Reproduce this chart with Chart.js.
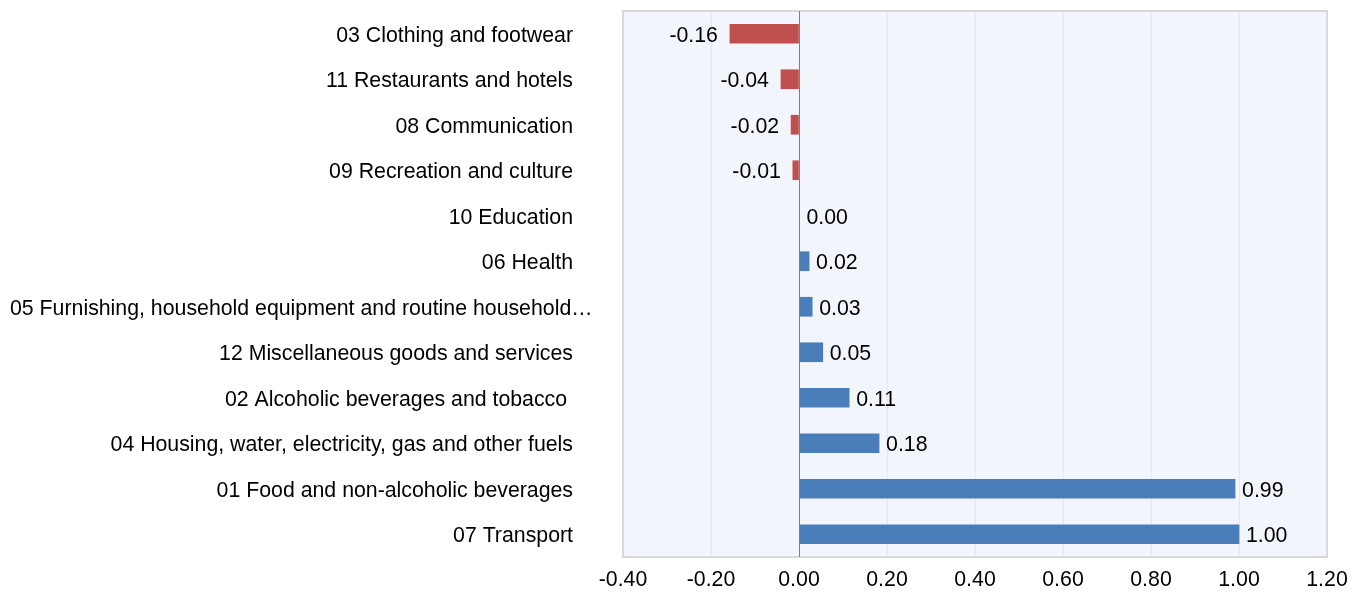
<!DOCTYPE html>
<html>
<head>
<meta charset="utf-8">
<script src="https://cdn.jsdelivr.net/npm/chart.js@4.4.1/dist/chart.umd.min.js"></script>
<style>
  html, body { margin: 0; padding: 0; background: #ffffff; }
  #wrap { width: 1365px; height: 592px; }
</style>
</head>
<body>
<div id="wrap"><canvas id="contribChart" width="1365" height="592"></canvas></div>
<script>
// Datos del gráfico
const categories = [
    '03 Clothing and footwear',
    '11 Restaurants and hotels',
    '08 Communication',
    '09 Recreation and culture',
    '10 Education',
    '06 Health',
    '05 Furnishing, household equipment and routine household…',
    '12 Miscellaneous goods and services',
    '02 Alcoholic beverages and tobacco ',
    '04 Housing, water, electricity, gas and other fuels',
    '01 Food and non-alcoholic beverages',
    '07 Transport'
];
const contributions = [-0.157, -0.041, -0.018, -0.014, 0.001, 0.023, 0.03, 0.054, 0.114, 0.182, 0.991, 1.0];
const xTicks = [-0.4, -0.2, 0, 0.2, 0.4, 0.6, 0.8, 1.0, 1.2];

const FONT = "'Liberation Sans', Arial, sans-serif";
const FONT_SIZE = 21.3;
const colorPos = '#4a7ebb';
const colorNeg = '#c0504d';

Chart.defaults.font.family = FONT;
Chart.defaults.color = '#000000';

// Fondo y borde del área de trazado
const plotBackground = {
    id: 'plotBackground',
    beforeDraw(chart) {
        const { ctx, chartArea: a } = chart;
        ctx.save();
        ctx.fillStyle = '#f2f5fb';
        ctx.fillRect(a.left, a.top, a.right - a.left, a.bottom - a.top);
        ctx.restore();
    },
    afterDatasetsDraw(chart) {
        const { ctx, chartArea: a } = chart;
        ctx.save();
        ctx.strokeStyle = '#d9d9d9';
        ctx.lineWidth = 2;
        ctx.strokeRect(a.left, a.top, a.right - a.left, a.bottom - a.top);
        // línea del cero
        const x0 = Math.round(chart.scales.x.getPixelForValue(0)) + 0.5;
        ctx.strokeStyle = '#7f7f7f';
        ctx.lineWidth = 1;
        ctx.beginPath();
        ctx.moveTo(x0, a.top);
        ctx.lineTo(x0, a.bottom);
        ctx.stroke();
        ctx.restore();
    }
};

// Etiquetas de categoría (alineadas a la derecha, la larga empieza en el borde izquierdo)
const categoryLabels = {
    id: 'categoryLabels',
    afterDraw(chart) {
        const { ctx, chartArea: a } = chart;
        const y = chart.scales.y;
        const right = a.left - 50;
        ctx.save();
        ctx.font = FONT_SIZE + 'px ' + FONT;
        ctx.fillStyle = '#000000';
        ctx.textBaseline = 'middle';
        categories.forEach((label, i) => {
            const py = y.getPixelForValue(i) + 2;
            const w = ctx.measureText(label).width;
            if (w > right - 10) {
                ctx.textAlign = 'left';
                ctx.fillText(label, 10, py);
            } else {
                ctx.textAlign = 'right';
                ctx.fillText(label, right, py);
            }
        });
        ctx.restore();
    }
};

// Etiquetas de valores
const valueLabels = {
    id: 'valueLabels',
    afterDatasetsDraw(chart) {
        const { ctx } = chart;
        const meta = chart.getDatasetMeta(0);
        ctx.save();
        ctx.font = FONT_SIZE + 'px ' + FONT;
        ctx.fillStyle = '#000000';
        ctx.textBaseline = 'middle';
        meta.data.forEach((bar, i) => {
            const v = contributions[i];
            const text = v.toFixed(2);
            if (v < 0) {
                ctx.textAlign = 'right';
                ctx.fillText(text, bar.x - 12, bar.y + 2);
            } else {
                ctx.textAlign = 'left';
                ctx.fillText(text, bar.x + 7, bar.y + 2);
            }
        });
        ctx.restore();
    }
};

const ctx = document.getElementById('contribChart');
new Chart(ctx, {
    type: 'bar',
    data: {
        labels: categories,
        datasets: [{
            data: contributions,
            backgroundColor: contributions.map(v => v < 0 ? colorNeg : colorPos),
            borderWidth: 0,
            barThickness: 19
        }]
    },
    options: {
        indexAxis: 'y',
        responsive: false,
        animation: false,
        layout: { padding: { top: 11, right: 38, bottom: 0, left: 0 } },
        plugins: {
            legend: { display: false },
            tooltip: { enabled: false }
        },
        scales: {
            x: {
                min: -0.4,
                max: 1.2,
                afterBuildTicks(scale) {
                    scale.ticks = xTicks.map(v => ({ value: v }));
                },
                ticks: {
                    padding: 10,
                    font: { size: FONT_SIZE },
                    color: '#000000',
                    callback: v => Number(v).toFixed(2)
                },
                grid: {
                    color: '#e4e8ee',
                    drawTicks: false
                },
                border: { display: false },
                afterFit(scale) { scale.height = 35; }
            },
            y: {
                ticks: { display: false },
                grid: { display: false },
                border: { display: false },
                afterFit(scale) { scale.width = 623; }
            }
        }
    },
    plugins: [plotBackground, categoryLabels, valueLabels]
});
</script>
</body>
</html>
